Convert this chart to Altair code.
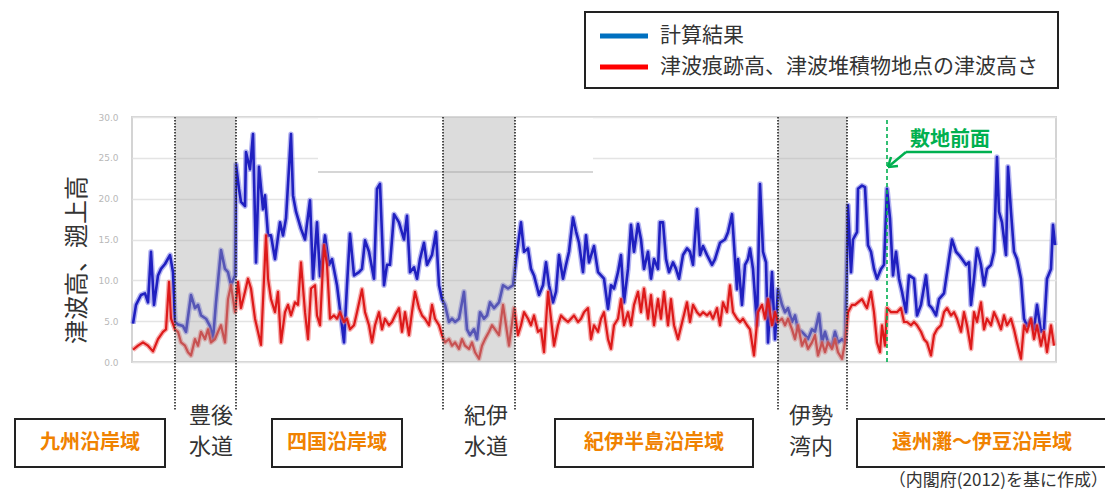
import altair as alt
import pandas as pd

FONT = "Noto Sans CJK JP"

# ---- data (position along the coast, height in m) ----
blue_pos = [1, 4, 9, 13, 16, 19, 22, 26, 29, 33,
            38, 41, 43, 46, 51, 54, 59, 63, 66, 69,
            74, 78, 81, 84, 89, 93, 96, 99, 103, 104,
            107, 109, 113, 114, 118, 121, 124, 127, 131, 133,
            136, 139, 143, 148, 151, 154, 159, 161, 164, 169,
            173, 178, 181, 185, 188, 193, 197, 200, 205, 212,
            215, 218, 222, 227, 230, 233, 237, 242, 245, 248,
            252, 255, 258, 262, 267, 272, 275, 278, 282, 285,
            288, 292, 295, 300, 304, 307, 310, 313, 317, 320,
            323, 327, 332, 335, 338, 342, 345, 348, 352, 355,
            358, 362, 367, 371, 376, 381, 384, 389, 392, 396,
            399, 402, 407, 411, 414, 417, 421, 424, 427, 431,
            434, 437, 441, 444, 447, 451, 454, 457, 462, 466,
            469, 472, 476, 479, 482, 486, 489, 492, 496, 499,
            502, 506, 509, 512, 516, 519, 522, 526, 528, 531,
            534, 537, 541, 544, 547, 551, 555, 558, 561, 565,
            568, 571, 575, 580, 583, 588, 593, 596, 600, 601,
            605, 606, 610, 613, 616, 618, 621, 625, 628, 631,
            634, 636, 640, 643, 646, 650, 653, 656, 660, 663,
            666, 670, 673, 676, 680, 683, 687, 690, 693, 696,
            700, 703, 706, 710, 713, 716, 719, 721, 725, 726,
            730, 733, 736, 739, 742, 745, 749, 752, 755, 758,
            761, 764, 767, 770, 774, 777, 782, 785, 789, 794,
            797, 800, 804, 807, 812, 817, 820, 824, 827, 830,
            834, 837, 839, 842, 845, 849, 852, 855, 859, 862,
            865, 867, 870, 874, 876, 879, 882, 885, 889, 892,
            895, 899, 902, 905, 909, 912, 915, 919, 921, 923]
blue_val = [4.7, 7.0, 8.2, 8.4, 7.3, 13.5, 7.0, 10.6, 11.4, 12.0,
            13.1, 11.0, 4.9, 4.6, 4.4, 3.7, 8.2, 6.6, 7.0, 5.7,
            5.3, 4.4, 2.8, 7.3, 13.7, 11.4, 11.0, 9.4, 10.6, 24.2,
            21.2, 19.6, 19.1, 25.7, 23.6, 27.9, 12.2, 23.9, 18.7, 20.4,
            15.5, 15.5, 12.6, 17.1, 15.5, 17.6, 27.9, 20.4, 18.4, 16.3,
            15.0, 19.8, 10.2, 17.1, 10.5, 15.5, 11.9, 12.6, 9.4, 2.4,
            9.4, 15.7, 10.6, 11.0, 11.4, 14.9, 13.5, 10.2, 21.2, 21.8,
            9.4, 11.9, 11.9, 18.1, 17.1, 15.0, 17.9, 11.0, 11.6, 10.2,
            12.6, 14.6, 11.9, 13.1, 15.9, 9.4, 7.7, 7.0, 4.9, 5.3,
            4.9, 5.3, 8.6, 4.0, 3.3, 4.0, 2.8, 6.1, 5.3, 5.7,
            7.3, 6.6, 7.3, 9.4, 9.0, 9.4, 12.6, 17.1, 13.5, 13.9,
            11.4, 10.6, 8.2, 9.4, 12.2, 9.4, 7.3, 8.6, 13.1, 10.2,
            11.9, 13.5, 17.7, 16.0, 14.6, 11.0, 15.5, 12.2, 14.2, 11.0,
            10.6, 10.2, 6.5, 9.4, 9.0, 11.0, 13.1, 7.3, 11.4, 16.8,
            13.5, 16.9, 15.0, 11.4, 13.5, 10.2, 12.6, 11.4, 17.1, 17.1,
            12.6, 11.0, 12.2, 11.4, 10.2, 13.1, 13.9, 13.5, 11.9, 18.7,
            13.1, 14.2, 13.1, 11.9, 12.6, 14.6, 15.0, 15.9, 18.1, 16.3,
            8.9, 12.6, 7.0, 11.9, 12.6, 13.9, 11.4, 4.5, 21.8, 13.5,
            12.2, 2.4, 11.0, 2.8, 8.9, 7.0, 6.1, 6.6, 4.9, 5.7,
            4.0, 3.7, 3.3, 2.8, 4.0, 3.7, 5.9, 2.4, 3.7, 2.4,
            2.0, 3.7, 2.4, 2.8, 2.4, 19.2, 11.0, 15.0, 15.9, 21.2,
            21.6, 21.4, 14.3, 13.5, 11.4, 10.2, 11.4, 11.9, 21.2, 17.6,
            10.6, 13.5, 10.2, 8.6, 6.1, 10.6, 10.2, 5.7, 7.0, 10.6,
            7.0, 6.6, 5.7, 7.7, 8.4, 12.6, 15.0, 13.5, 13.1, 12.6,
            11.9, 12.2, 7.0, 10.2, 13.9, 11.9, 9.4, 11.4, 11.9, 13.5,
            25.1, 18.4, 17.1, 13.1, 23.9, 18.4, 13.5, 12.6, 10.2, 5.3,
            4.4, 5.3, 4.0, 7.0, 3.7, 4.0, 10.2, 11.4, 16.8, 14.3]

red_pos = [1, 6, 11, 16, 21, 26, 31, 34, 37, 39,
           43, 46, 49, 53, 56, 59, 63, 66, 69, 73,
           76, 79, 83, 86, 89, 93, 96, 99, 103, 106,
           109, 113, 116, 119, 123, 126, 129, 134, 136, 139,
           143, 146, 149, 153, 156, 159, 163, 166, 169, 173,
           176, 179, 183, 185, 188, 192, 195, 198, 202, 205,
           208, 212, 215, 218, 222, 225, 230, 233, 237, 240,
           243, 247, 250, 253, 257, 260, 263, 267, 270, 273,
           277, 280, 283, 287, 290, 293, 297, 300, 303, 307,
           310, 313, 317, 320, 323, 327, 330, 333, 337, 340,
           343, 347, 350, 353, 357, 360, 363, 367, 371, 374,
           377, 382, 386, 389, 392, 396, 399, 402, 406, 409,
           412, 416, 419, 422, 426, 429, 432, 436, 439, 442,
           446, 449, 452, 456, 459, 462, 466, 469, 472, 476,
           479, 482, 486, 489, 492, 496, 499, 502, 506, 509,
           512, 516, 519, 522, 526, 529, 532, 536, 539, 542,
           546, 551, 555, 558, 561, 565, 568, 571, 575, 578,
           581, 585, 588, 591, 595, 598, 601, 605, 608, 611,
           615, 618, 622, 626, 630, 633, 636, 640, 643, 646,
           650, 653, 656, 660, 663, 666, 670, 673, 676, 680,
           683, 686, 690, 693, 696, 700, 703, 706, 710, 713,
           716, 720, 723, 726, 730, 733, 735, 739, 742, 745,
           748, 750, 753, 755, 759, 762, 765, 769, 772, 775,
           779, 782, 785, 789, 792, 795, 799, 802, 805, 809,
           812, 815, 819, 822, 825, 829, 832, 835, 839, 842,
           845, 849, 852, 855, 859, 862, 865, 869, 872, 875,
           879, 882, 885, 889, 892, 895, 899, 902, 905, 909,
           912, 915, 919, 922]
red_val = [1.5, 2.0, 2.4, 2.0, 1.3, 2.8, 3.7, 4.0, 9.8, 5.3,
           4.0, 3.7, 2.4, 2.0, 1.2, 0.8, 2.8, 2.0, 3.7, 2.8,
           4.0, 2.4, 2.8, 3.7, 4.5, 2.4, 7.7, 9.4, 6.1, 9.8,
           6.6, 8.6, 10.2, 9.0, 5.3, 3.7, 2.1, 15.5, 10.2, 7.7,
           6.1, 8.6, 2.4, 6.1, 7.0, 5.7, 7.3, 7.0, 12.2, 6.1,
           2.8, 9.0, 9.4, 5.7, 4.5, 14.3, 11.9, 5.3, 5.7, 5.3,
           6.1, 4.9, 5.3, 4.0, 4.5, 6.1, 8.9, 6.1, 4.5, 2.4,
           4.5, 6.1, 4.0, 5.3, 4.5, 4.9, 5.7, 6.6, 3.7, 6.1,
           3.3, 6.1, 8.6, 6.6, 5.7, 5.3, 4.5, 7.0, 5.3, 4.5,
           3.3, 2.4, 2.8, 2.0, 2.4, 1.6, 2.8, 2.0, 1.6, 2.4,
           1.2, 0.4, 2.0, 2.8, 3.7, 4.5, 4.0, 3.3, 7.0, 4.5,
           2.0, 6.6, 3.3, 4.5, 6.1, 5.3, 4.5, 5.7, 3.7, 4.0,
           1.2, 8.6, 5.3, 2.0, 4.5, 5.7, 5.3, 4.9, 5.3, 5.7,
           4.9, 5.3, 6.1, 6.6, 2.8, 4.5, 3.7, 5.3, 6.1, 2.8,
           1.6, 4.5, 5.3, 7.7, 4.5, 6.1, 4.5, 7.0, 8.6, 6.1,
           9.0, 5.3, 8.2, 4.5, 7.7, 5.3, 8.6, 4.5, 7.7, 4.5,
           2.8, 5.3, 7.3, 4.9, 7.0, 6.1, 5.7, 6.1, 5.7, 6.1,
           5.3, 6.6, 4.5, 7.3, 6.1, 9.4, 6.1, 5.3, 4.9, 5.3,
           4.5, 4.0, 0.8, 6.1, 7.0, 5.3, 7.7, 4.5, 6.1, 4.9,
           5.3, 4.5, 5.3, 4.0, 2.8, 4.5, 2.0, 2.8, 1.6, 2.4,
           3.3, 0.8, 2.4, 1.2, 2.4, 1.6, 2.8, 1.2, 0.4, 2.4,
           6.1, 7.0, 7.0, 7.3, 7.7, 7.0, 6.6, 8.6, 6.1, 2.4,
           1.2, 4.5, 2.0, 6.6, 6.1, 6.1, 6.1, 6.6, 4.9, 4.9,
           4.5, 4.9, 4.5, 3.7, 2.8, 2.4, 0.8, 3.3, 4.0, 4.5,
           6.1, 6.6, 5.7, 6.1, 5.3, 3.7, 6.1, 4.5, 1.6, 6.1,
           4.9, 7.3, 4.0, 5.3, 4.5, 6.1, 5.3, 4.0, 5.7, 4.5,
           5.3, 4.0, 2.4, 0.4, 4.5, 3.7, 5.3, 2.8, 4.5, 2.0,
           3.7, 1.2, 4.5, 2.0]

shade_start = [43, 311, 646]      # 豊後水道, 紀伊水道, 伊勢湾内
shade_end = [104, 383, 715]
divider_pos = [43, 104, 311, 383, 646, 715]
site_pos = [755]                  # 敷地前面
y_ticks = [0, 5, 10, 15, 20, 25, 30]
series_names = ["計算結果", "津波痕跡高、津波堆積物地点の津波高さ"]
series_colors = ["#0070C0", "#FF0000"]

df_blue = pd.DataFrame({"pos": blue_pos, "h": blue_val})
df_red = pd.DataFrame({"pos": red_pos, "h": red_val})
df_shade = pd.DataFrame({"s": shade_start, "e": shade_end})
df_div = pd.DataFrame({"pos": divider_pos})
df_site = pd.DataFrame({"pos": site_pos})
one = pd.DataFrame({"k": [0]})

W, H = 924, 245
xs = alt.Scale(domain=[0, 924], nice=False, zero=False)
ys = alt.Scale(domain=[0, 30], nice=False)
y_axis = alt.Axis(values=y_ticks, format=".1f", title=None, labelFontSize=9,
                  labelColor="#b8b8b8", labelPadding=14, ticks=False, domain=False,
                  grid=True, gridColor="#e4e4e4", gridWidth=1.5, labelFont="DejaVu Sans")
X = alt.X("pos:Q", scale=xs, axis=None)
Y = alt.Y("h:Q", scale=ys, axis=y_axis)


def line(df, color, width, opacity=1.0):
    return alt.Chart(df).mark_line(color=color, strokeWidth=width, opacity=opacity,
                                   strokeJoin="round").encode(x=X, y=Y)


def txt(s, x, y, size, color="#333333", weight="normal", align="center", angle=0):
    return alt.Chart(one).mark_text(text=s, font=FONT, fontSize=size, fontWeight=weight,
                                    color=color, align=align, baseline="middle",
                                    angle=angle).encode(x=alt.value(x), y=alt.value(y))


def box(x1, x2, y1, y2, stroke="#222222", sw=2):
    return alt.Chart(one).mark_rect(fill="white", stroke=stroke, strokeWidth=sw).encode(
        x=alt.value(x1), x2=alt.value(x2), y=alt.value(y1), y2=alt.value(y2))


def seg(x1, y1, x2, y2, color, width, dash=None):
    kw = dict(color=color, strokeWidth=width)
    if dash:
        kw["strokeDash"] = dash
    return alt.Chart(one).mark_rule(**kw).encode(
        x=alt.value(x1), y=alt.value(y1), x2=alt.value(x2), y2=alt.value(y2))


# artifact of the original figure (blank band with a faint line)
blank = alt.Chart(pd.DataFrame({"s": [186], "e": [461]})).mark_rect(fill="white").encode(
    x=alt.X("s:Q", scale=xs, axis=None), x2="e:Q", y=alt.value(1), y2=alt.value(54))
blank_line = alt.Chart(pd.DataFrame({"s": [186], "e": [461]})).mark_rule(
    color="#d6d6d6", strokeWidth=2).encode(
    x=alt.X("s:Q", scale=xs, axis=None), x2="e:Q", y=alt.value(55))

shade = alt.Chart(df_shade).mark_rect(fill="#a8a8a8", opacity=0.4).encode(
    x=alt.X("s:Q", scale=xs, axis=None), x2="e:Q", y=alt.value(0), y2=alt.value(H))
dividers = alt.Chart(df_div).mark_rule(color="#222222", strokeDash=[1.5, 1.5],
                                        strokeWidth=1.6).encode(
    x=X, y=alt.value(0), y2=alt.value(293))
site = alt.Chart(df_site).mark_rule(color="#00B050", strokeDash=[4, 3],
                                     strokeWidth=1.6).encode(
    x=X, y=alt.value(3), y2=alt.value(248))

GREEN = "#00B050"
ORANGE = "#F08200"

layers = [
    blank, blank_line,
    line(df_blue, "#7878e6", 5.5, 0.55),
    line(df_blue, "#2020c0", 2.6),
    line(df_red, "#f07070", 5, 0.55),
    line(df_red, "#dd1a1a", 2.2),
    shade, dividers, site,
    # arrow + label for 敷地前面
    seg(774, 35, 756, 50, GREEN, 2.5),
    seg(756, 50, 766, 49, GREEN, 2.5),
    seg(756, 50, 759, 40, GREEN, 2.5),
    seg(774, 35, 860, 35, GREEN, 2.5),
    txt("敷地前面", 818, 23, 20, GREEN, "bold"),
    # y title
    txt("津波高、遡上高", -54, 143, 24, angle=270),
    # legend
    box(453, 926, -105, -29),
    seg(468, -81, 516, -81, series_colors[0], 5),
    seg(468, -50, 516, -50, series_colors[1], 5),
    txt(series_names[0], 528, -81, 21, align="left"),
    txt(series_names[1], 528, -50, 21, align="left"),
    # region labels
    box(-117, 33, 302, 350), txt("九州沿岸域", -42, 326, 20, ORANGE, "bold"),
    txt("豊後", 79, 299, 22), txt("水道", 79, 330, 22),
    box(140, 270, 302, 350), txt("四国沿岸域", 205, 326, 20, ORANGE, "bold"),
    txt("紀伊", 354, 299, 22), txt("水道", 354, 330, 22),
    box(423, 621, 302, 350), txt("紀伊半島沿岸域", 522, 326, 20, ORANGE, "bold"),
    txt("伊勢", 679, 299, 22), txt("湾内", 679, 330, 22),
    box(725, 976, 302, 350), txt("遠州灘～伊豆沿岸域", 850, 326, 20, ORANGE, "bold"),
    txt("（内閣府(2012)を基に作成）", 976, 364, 17, align="right"),
]

chart = alt.layer(*layers).properties(
    width=W, height=H,
    autosize=alt.AutoSizeParams(type="none"),
    padding={"left": 124, "top": 109, "right": 49, "bottom": 150},
    background="white",
).configure_view(stroke="#d4d4d4", strokeWidth=2)

chart.save("out.html", embed_options={"renderer": "svg", "actions": False})
